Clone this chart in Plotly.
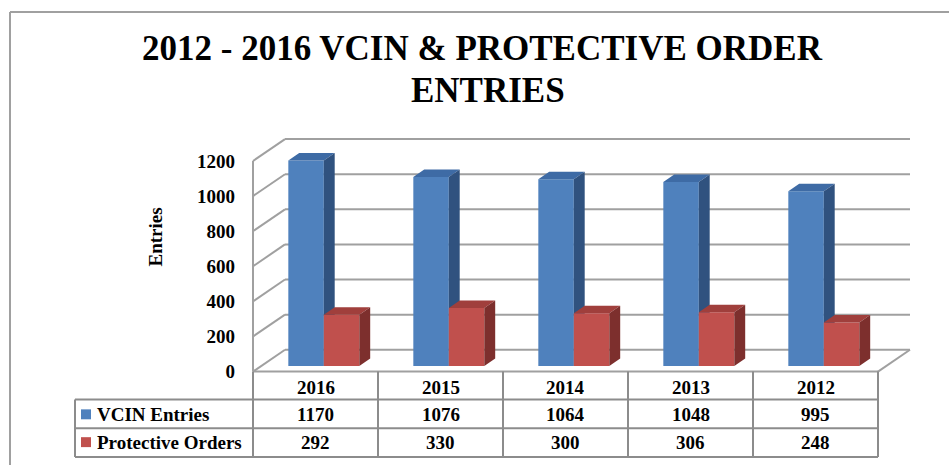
import plotly.graph_objects as go

# ---------------- data ----------------
categories = ["2016", "2015", "2014", "2013", "2012"]
vcin_entries = [1170, 1076, 1064, 1048, 995]
protective_orders = [292, 330, 300, 306, 248]
series_names = ["VCIN Entries", "Protective Orders"]
y_ticks = [0, 200, 400, 600, 800, 1000, 1200]
title_lines = ["2012 - 2016 VCIN & PROTECTIVE ORDER", "ENTRIES"]
y_title = "Entries"

# ---------------- geometry / style ----------------
W, H = 949, 468
FONT = "Liberation Serif"
X0 = 253.0      # px of front-left floor corner
CAT = 125.0     # px per category
Y0 = 374.0      # px of value 0 at front
VPX = 212.0 / 1200.0   # px per value unit
DEPTH_X = 32.0 / CAT
DEPTH_V = 22.0 / VPX
BW = 35.5 / CAT
DF, DB = 0.26, 0.60   # bar front/back depth

PL, PR, PT, PB = 244, 940, 118, 382
x_range = [(PL - X0) / CAT - 0.5, (PR - X0) / CAT - 0.5]
y_range = [(Y0 - PB) / VPX, (Y0 - PT) / VPX]


def P(x, v, d):
    return x + d * DEPTH_X, v + d * DEPTH_V


def py(px):
    return 1 - px / H


def pxf(px):
    return px / W


fig = go.Figure()

# ---- walls / gridlines ----
gx, gy = [], []
xmin, xmax = -0.5, len(categories) - 0.5
top = y_ticks[-1]
for v in y_ticks:
    for a, b in [(P(xmin, v, 1), P(xmax, v, 1)), (P(xmin, v, 0), P(xmin, v, 1))]:
        gx += [a[0], b[0], None]
        gy += [a[1], b[1], None]
for a, b in [(P(xmin, 0, 0), P(xmin, top, 0)),
             (P(xmin, 0, 0), P(xmax, 0, 0)),
             (P(xmax, 0, 0), P(xmax, 0, 1))]:
    gx += [a[0], b[0], None]
    gy += [a[1], b[1], None]
fig.add_trace(go.Scatter(x=gx, y=gy, mode="lines", line=dict(color="#a0a0a0", width=2),
                         hoverinfo="skip", showlegend=False))

# ---- 3D bars ----
colors = [
    dict(front="#4F81BD", top="#3E6BA5", side="#30527F"),
    dict(front="#C0504D", top="#A03F3C", side="#7D2F2D"),
]
series = [vcin_entries, protective_orders]
for s, vals in enumerate(series):
    faces = {"front": ([], []), "top": ([], []), "side": ([], [])}
    for c, val in enumerate(vals):
        xl = c - BW + s * BW
        xr = xl + BW
        polys = {
            "front": [P(xl, 0, DF), P(xr, 0, DF), P(xr, val, DF), P(xl, val, DF)],
            "top": [P(xl, val, DF), P(xr, val, DF), P(xr, val, DB), P(xl, val, DB)],
            "side": [P(xr, 0, DF), P(xr, 0, DB), P(xr, val, DB), P(xr, val, DF)],
        }
        for k, pts in polys.items():
            fx, fy = faces[k]
            fx += [p[0] for p in pts] + [pts[0][0], None]
            fy += [p[1] for p in pts] + [pts[0][1], None]
    for k in ["front", "top", "side"]:
        fx, fy = faces[k]
        fig.add_trace(go.Scatter(x=fx, y=fy, mode="lines", fill="toself",
                                 fillcolor=colors[s][k], line=dict(width=0, color=colors[s][k]),
                                 name=series_names[s], hoverinfo="skip", showlegend=False))

# ---- data table ----
shapes = []
TL = "#8c8c8c"
ROW_TOP, ROW1, ROW2, ROW_BOT = 375, 402, 431, 460
LBL_L = 75
for i in range(len(categories) + 1):
    shapes.append(dict(type="line", xref="x", yref="paper", x0=i - 0.5, x1=i - 0.5,
                       y0=py(ROW_TOP - 1), y1=py(ROW_BOT), line=dict(color=TL, width=2)))
for yy in [ROW1, ROW2, ROW_BOT]:
    shapes.append(dict(type="line", xref="paper", yref="paper", x0=pxf(LBL_L), x1=pxf(X0 + CAT * len(categories)),
                       y0=py(yy), y1=py(yy), line=dict(color=TL, width=2)))
shapes.append(dict(type="line", xref="paper", yref="paper", x0=pxf(LBL_L), x1=pxf(LBL_L),
                   y0=py(ROW1), y1=py(ROW_BOT), line=dict(color=TL, width=2)))
# outer chart border (top & left)
shapes.append(dict(type="line", xref="paper", yref="paper", x0=pxf(10), x1=1.0,
                   y0=py(12), y1=py(12), line=dict(color="#a0a0a0", width=2)))
shapes.append(dict(type="line", xref="paper", yref="paper", x0=pxf(10), x1=pxf(10),
                   y0=py(12), y1=0.0, line=dict(color="#a0a0a0", width=2)))

annotations = []
tf = dict(family=FONT, size=19, color="black", weight="bold")
row_centers = [417, 445]
for c, cat in enumerate(categories):
    annotations.append(dict(text=cat, x=c, y=py(390), xref="x", yref="paper",
                            showarrow=False, font=tf, xanchor="center", yanchor="middle"))
    for r, vals in enumerate(series):
        annotations.append(dict(text=str(vals[c]), x=c, y=py(row_centers[r]), xref="x", yref="paper",
                                showarrow=False, font=tf, xanchor="center", yanchor="middle"))
for r, name in enumerate(series_names):
    yc = row_centers[r]
    shapes.append(dict(type="rect", xref="paper", yref="paper", x0=pxf(81), x1=pxf(91),
                       y0=py(yc + 5), y1=py(yc - 5), fillcolor=colors[r]["front"], line=dict(width=0)))
    annotations.append(dict(text=name, x=pxf(95), y=py(yc), xref="paper", yref="paper",
                            showarrow=False, font=tf, xanchor="left", yanchor="middle"))

# titles
annotations.append(dict(text=title_lines[0], x=pxf(482), y=py(49), xref="paper", yref="paper",
                        showarrow=False, xanchor="center", yanchor="middle",
                        font=dict(family=FONT, size=35, color="black", weight="bold")))
annotations.append(dict(text=title_lines[1], x=pxf(488), y=py(91), xref="paper", yref="paper",
                        showarrow=False, xanchor="center", yanchor="middle",
                        font=dict(family=FONT, size=35, color="black", weight="bold")))
annotations.append(dict(text=y_title, x=pxf(155), y=py(239), xref="paper", yref="paper",
                        showarrow=False, xanchor="center", yanchor="middle", textangle=-90,
                        font=tf))

fig.update_layout(
    width=W, height=H, autosize=False,
    margin=dict(l=0, r=0, t=0, b=0),
    paper_bgcolor="white", plot_bgcolor="rgba(0,0,0,0)",
    showlegend=False,
    xaxis=dict(range=x_range, domain=[pxf(PL), pxf(PR)], visible=False, fixedrange=True),
    yaxis=dict(range=y_range, domain=[py(PB), py(PT)], tickvals=y_ticks,
               ticktext=[str(t) for t in y_ticks], showgrid=False, zeroline=False,
               showline=False, ticks="", ticklabelstandoff=8, tickfont=tf, fixedrange=True),
    shapes=shapes, annotations=annotations,
)

fig.write_html("out.html", config={"displayModeBar": False},
               post_script="document.body.style.margin='0';document.body.style.overflow='hidden';")
